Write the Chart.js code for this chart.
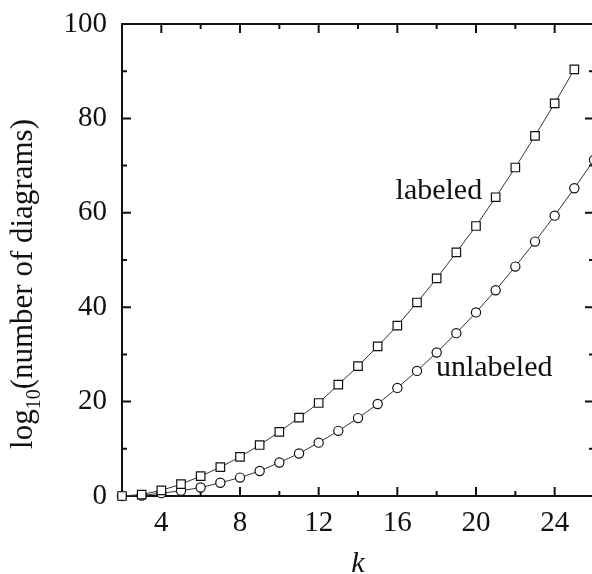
<!DOCTYPE html>
<html>
<head>
<meta charset="utf-8">
<script src="https://cdn.jsdelivr.net/npm/chart.js@4.4.1/dist/chart.umd.min.js"></script>
<style>
  html, body { margin: 0; padding: 0; background: #fff; overflow: hidden; }
  #wrap { width: 592px; height: 574px; overflow: hidden; position: relative; }
  canvas { display: block; }
</style>
</head>
<body>
<div id="wrap"><canvas id="c" width="612" height="574" style="width:612px;height:574px"></canvas></div>
<script>
// number of crossings k
const kValues = [2, 3, 4, 5, 6, 7, 8, 9, 10, 11, 12, 13, 14, 15, 16, 17, 18, 19, 20, 21, 22, 23, 24, 25, 26];

// log10 of the diagram counts (labeled: k = 2..25, unlabeled: k = 2..26)
const labeledLog = [0, 0.3, 1.2, 2.5, 4.2, 6.1, 8.3, 10.8, 13.6, 16.6, 19.7, 23.6, 27.5, 31.7,
                    36.1, 41.0, 46.1, 51.6, 57.2, 63.3, 69.6, 76.3, 83.2, 90.4];
const unlabeledLog = [0, 0.1, 0.6, 1.1, 1.8, 2.8, 3.9, 5.3, 7.1, 9.0, 11.3, 13.8, 16.5, 19.5,
                      22.9, 26.5, 30.4, 34.5, 38.9, 43.6, 48.6, 53.9, 59.4, 65.2, 71.2];

const xTickValues = [4, 8, 12, 16, 20, 24];
const xMinorTickValues = [6, 10, 14, 18, 22];
const yTickValues = [0, 20, 40, 60, 80, 100];
const yMinorTickValues = [10, 30, 50, 70, 90];

const SERIF = "'Liberation Serif', 'Times New Roman', serif";

const toPoints = (ys) => ys.map((y, i) => ({ x: kValues[i], y }));

// closed frame with inward-pointing ticks on all four sides
const framePlugin = {
  id: 'frame',
  beforeDatasetsDraw(chart) {
    const { ctx, chartArea: a, scales: { x, y } } = chart;
    ctx.save();
    ctx.strokeStyle = '#111';
    ctx.lineWidth = 2;
    ctx.strokeRect(a.left, a.top, a.right - a.left, a.bottom - a.top);
    ctx.beginPath();
    const xt = (v, len) => {
      const p = x.getPixelForValue(v);
      ctx.moveTo(p, a.bottom); ctx.lineTo(p, a.bottom - len);
      ctx.moveTo(p, a.top); ctx.lineTo(p, a.top + len);
    };
    const yt = (v, len) => {
      const p = y.getPixelForValue(v);
      ctx.moveTo(a.left, p); ctx.lineTo(a.left + len, p);
      ctx.moveTo(a.right, p); ctx.lineTo(a.right - len, p);
    };
    xTickValues.forEach(v => xt(v, 9));
    xMinorTickValues.forEach(v => xt(v, 5));
    yTickValues.forEach(v => yt(v, 9));
    yMinorTickValues.forEach(v => yt(v, 5));
    ctx.stroke();
    ctx.restore();
  },
  afterDraw(chart) {
    const { ctx, chartArea: a, scales: { x, y } } = chart;
    ctx.save();
    ctx.fillStyle = '#111';
    ctx.textBaseline = 'alphabetic';

    // curve labels
    ctx.font = `30px ${SERIF}`;
    ctx.textAlign = 'left';
    ctx.fillText('labeled', x.getPixelForValue(15.91), y.getPixelForValue(62.9));
    ctx.fillText('unlabeled', x.getPixelForValue(17.96), y.getPixelForValue(25.5));

    // x axis title
    ctx.font = `italic 30px ${SERIF}`;
    ctx.textAlign = 'center';
    ctx.fillText('k', (a.left + a.right) / 2, 572);

    // y axis title with subscript
    const main = `31px ${SERIF}`, sub = `20px ${SERIF}`;
    const p1 = 'log', p2 = '10', p3 = '(number of diagrams)';
    ctx.font = main; const w1 = ctx.measureText(p1).width, w3 = ctx.measureText(p3).width;
    ctx.font = sub; const w2 = ctx.measureText(p2).width;
    const total = w1 + w2 + w3;
    ctx.translate(31.5, 284);
    ctx.rotate(-Math.PI / 2);
    ctx.textAlign = 'left';
    let cx = -total / 2;
    ctx.font = main; ctx.fillText(p1, cx, 0); cx += w1;
    ctx.font = sub; ctx.fillText(p2, cx, 8); cx += w2;
    ctx.font = main; ctx.fillText(p3, cx, 0);
    ctx.restore();
  }
};

// invisible tick marks set the label offset without adding scale padding
const hiddenTicks = (len) => ({
  display: true, drawOnChartArea: false, drawTicks: true,
  tickLength: len, tickColor: 'rgba(0,0,0,0)'
});

new Chart(document.getElementById('c'), {
  type: 'line',
  data: {
    datasets: [
      {
        label: 'labeled',
        data: toPoints(labeledLog),
        borderColor: '#333',
        borderWidth: 1,
        pointStyle: 'rect',
        pointRadius: 6,
        pointBorderColor: '#111',
        pointBackgroundColor: '#fff',
        pointBorderWidth: 1.2,
        tension: 0,
        clip: false
      },
      {
        label: 'unlabeled',
        data: toPoints(unlabeledLog),
        borderColor: '#333',
        borderWidth: 1,
        pointStyle: 'circle',
        pointRadius: 4.6,
        pointBorderColor: '#111',
        pointBackgroundColor: '#fff',
        pointBorderWidth: 1.2,
        tension: 0,
        clip: false
      }
    ]
  },
  options: {
    responsive: false,
    devicePixelRatio: 1,
    animation: false,
    events: [],
    layout: { padding: { left: 0, right: 18, top: 24, bottom: 0 } },
    plugins: { legend: { display: false }, tooltip: { enabled: false } },
    scales: {
      x: {
        type: 'linear',
        min: 2,
        max: 26,
        afterBuildTicks: (s) => { s.ticks = xTickValues.map(v => ({ value: v })); },
        afterFit: (s) => { s.height = 78; },
        grid: hiddenTicks(10),
        border: { display: false },
        ticks: {
          padding: 0,
          autoSkip: false,
          maxRotation: 0,
          color: '#111',
          font: { family: SERIF, size: 29 }
        }
      },
      y: {
        type: 'linear',
        min: 0,
        max: 100,
        afterBuildTicks: (s) => { s.ticks = yTickValues.map(v => ({ value: v })); },
        afterFit: (s) => { s.width = 122; },
        grid: hiddenTicks(15),
        border: { display: false },
        ticks: {
          padding: 0,
          autoSkip: false,
          color: '#111',
          font: { family: SERIF, size: 29 }
        }
      }
    }
  },
  plugins: [framePlugin]
});
</script>
</body>
</html>
